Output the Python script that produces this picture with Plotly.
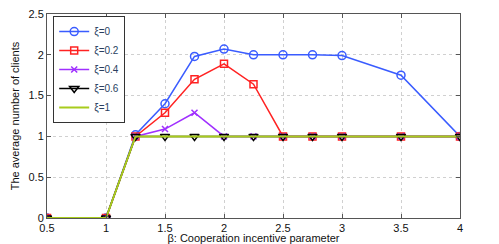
import plotly.graph_objects as go

beta = [0.5, 1, 1.25, 1.5, 1.75, 2, 2.25, 2.5, 2.75, 3, 3.5, 4]
xi0 = [0, 0, 1.02, 1.40, 1.98, 2.07, 2.0, 2.0, 2.0, 1.99, 1.75, 1.0]
xi02 = [0, 0, 1.0, 1.29, 1.70, 1.89, 1.64, 1.0, 1.0, 1.0, 1.0, 1.0]
xi04 = [0, 0, 1.0, 1.09, 1.29, 1.0, 1.0, 1.0, 1.0, 1.0, 1.0, 1.0]
xi06 = [0, 0, 1.0, 1.0, 1.0, 1.0, 1.0, 1.0, 1.0, 1.0, 1.0, 1.0]
xi1 = [0, 0, 1.0, 1.0, 1.0, 1.0, 1.0, 1.0, 1.0, 1.0, 1.0, 1.0]
names = ["ξ=0", "ξ=0.2", "ξ=0.4", "ξ=0.6", "ξ=1"]
xticks = [0.5, 1, 1.5, 2, 2.5, 3, 3.5, 4]
yticks = [0, 0.5, 1, 1.5, 2, 2.5]

fig = go.Figure()
styles = [
    (xi0, "#3a5cff", "circle-open", 8),
    (xi02, "#ff2222", "square-open", 7),
    (xi04, "#a030ff", "x-thin-open", 6),
    (xi06, "#000000", "triangle-down-open", 8),
]
for (ys, col, sym, sz), nm in zip(styles, names[:4]):
    fig.add_trace(go.Scatter(x=beta, y=ys, name=nm, mode="lines+markers",
                             line=dict(color=col, width=1.5),
                             marker=dict(symbol=sym, size=sz, color=col,
                                         line=dict(color=col, width=1.5))))
fig.add_trace(go.Scatter(x=beta, y=xi1, name=names[4], mode="lines",
                         line=dict(color="#a8cc1c", width=2)))

axis_common = dict(showline=True, linecolor="#555555", linewidth=1, mirror="ticks",
                   ticks="inside", ticklen=4, tickcolor="#555555",
                   showgrid=True, gridcolor="#d0d0d0", griddash="dot", gridwidth=1,
                   zeroline=False, automargin=False, ticklabeloverflow="allow",
                   tickfont=dict(size=11, color="#111111"))
fig.update_xaxes(range=[0.5, 4], tickvals=xticks, ticktext=[str(t) for t in xticks],
                 title=dict(text="β: Cooperation incentive parameter", font=dict(size=11, color="#111111"), standoff=0),
                 **axis_common)
fig.update_yaxes(range=[0, 2.5], tickvals=yticks, ticktext=[str(t) for t in yticks],
                 title=dict(text="The average number of clients", font=dict(size=11, color="#111111"), standoff=6),
                 **axis_common)
# page body has an 8px default margin, so the figure is sized/offset to compensate
fig.update_layout(width=491, height=236, margin=dict(l=39, r=39, t=6, b=26, autoexpand=False),
                  paper_bgcolor="white", plot_bgcolor="white",
                  font=dict(family="Liberation Sans, Arial, sans-serif", size=11),
                  legend=dict(x=0.015, y=0.99, xanchor="left", yanchor="top",
                              bgcolor="white", bordercolor="#333333", borderwidth=1,
                              font=dict(size=10), tracegroupgap=0, itemwidth=30))
fig.write_html("out.html")
